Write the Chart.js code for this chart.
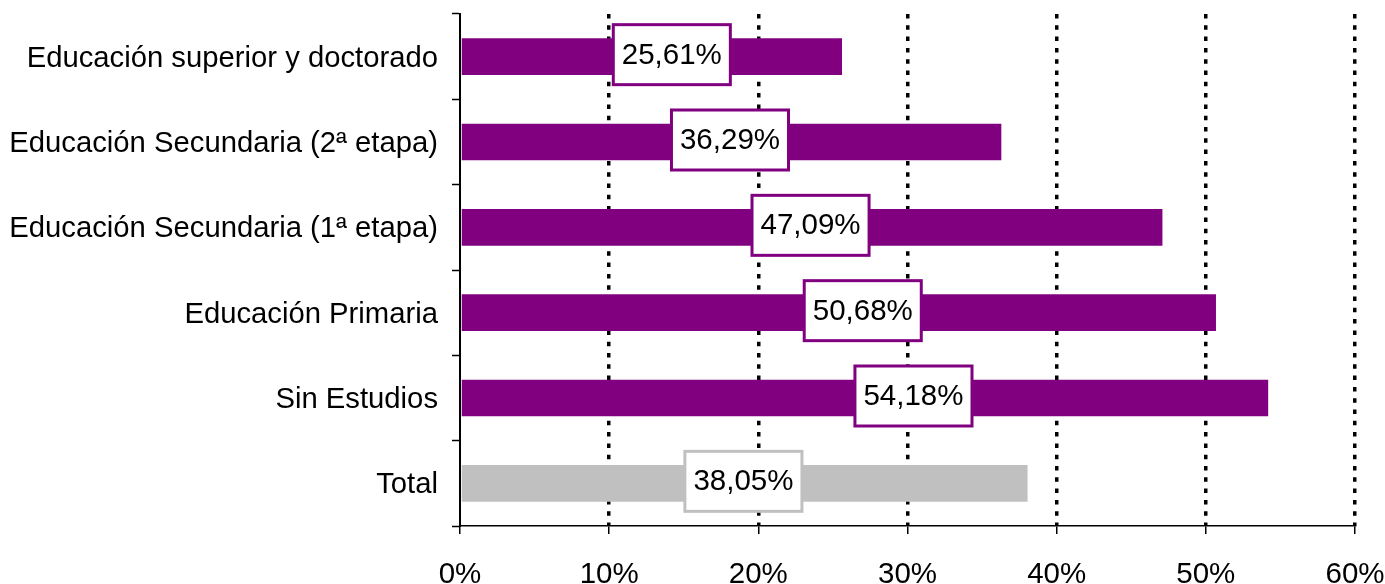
<!DOCTYPE html>
<html>
<head>
<meta charset="utf-8">
<script src="https://cdn.jsdelivr.net/npm/chart.js@4/dist/chart.umd.min.js"></script>
<style>
  html, body { margin: 0; padding: 0; background: #fff; }
  #wrap { width: 1385px; height: 584px; }
</style>
</head>
<body>
<div id="wrap"><canvas id="chart" width="1385" height="584"></canvas></div>
<script>
// ── Data ─────────────────────────────────────────────
const categories = [
  'Educación superior y doctorado',
  'Educación Secundaria (2ª etapa)',
  'Educación Secundaria (1ª etapa)',
  'Educación Primaria',
  'Sin Estudios',
  'Total'
];
const values   = [25.61, 36.29, 47.09, 50.68, 54.18, 38.05];
// where each value box sits along the axis (in %)
const labelAt  = [14.2, 18.1, 23.5, 27.0, 30.4, 19.0];
const xTicks   = [0, 10, 20, 30, 40, 50, 60];

const PURPLE = '#800080';
const GREY   = '#c0c0c0';
const FONT   = '"Liberation Sans", Arial, sans-serif';
const barColors = values.map((v, i) => i === values.length - 1 ? GREY : PURPLE);

const fmt = v => v.toFixed(2).replace('.', ',') + '%';

// boxed value labels
const boxLabels = {
  id: 'boxLabels',
  afterDatasetsDraw(chart) {
    const { ctx, scales: { x } } = chart;
    const meta = chart.getDatasetMeta(0);
    ctx.save();
    ctx.font = '29.5px ' + FONT;
    ctx.textAlign = 'center';
    ctx.textBaseline = 'middle';
    meta.data.forEach((bar, i) => {
      const txt = fmt(values[i]);
      const cx = x.getPixelForValue(labelAt[i]);
      const cy = bar.y - 2;
      const w = ctx.measureText(txt).width + 17;
      const h = 60;
      ctx.fillStyle = '#fff';
      ctx.fillRect(cx - w / 2, cy - h / 2, w, h);
      ctx.lineWidth = 3;
      ctx.strokeStyle = barColors[i];
      ctx.strokeRect(cx - w / 2, cy - h / 2, w, h);
      ctx.fillStyle = '#000';
      ctx.fillText(txt, cx, cy + 1);
    });
    ctx.restore();
  }
};

new Chart(document.getElementById('chart'), {
  type: 'bar',
  data: {
    labels: categories,
    datasets: [{
      data: values,
      backgroundColor: barColors,
      borderWidth: 0,
      categoryPercentage: 1,
      barPercentage: 0.43
    }]
  },
  options: {
    indexAxis: 'y',
    responsive: false,
    animation: false,
    layout: { padding: { top: 14, right: 30, bottom: 0, left: 0 } },
    plugins: { legend: { display: false }, tooltip: { enabled: false } },
    scales: {
      x: {
        min: 0, max: 60,
        afterBuildTicks: s => { s.ticks = xTicks.map(v => ({ value: v })); },
        afterFit: s => { s.height = 58; s.paddingLeft = 0; s.paddingRight = 0; },
        ticks: {
          color: '#000', padding: 23,
          font: { family: FONT, size: 29.5 },
          callback: v => v + '%'
        },
        grid: {
          color: c => c.tick && c.tick.value === 0 ? 'rgba(0,0,0,0)' : '#000',
          lineWidth: 3.5,
          tickColor: '#000', tickWidth: 1.5, tickLength: 8,
          tickBorderDash: []
        },
        border: { color: '#000', width: 1.5, dash: [4.5, 6.8] }
      },
      y: {
        afterFit: s => { s.width = 460; s.paddingTop = 0; s.paddingBottom = 0; },
        ticks: {
          color: '#000', padding: 14, labelOffset: 2,
          font: { family: FONT, size: 29.25 }
        },
        grid: {
          offset: true,
          drawOnChartArea: false,
          tickColor: '#000', tickWidth: 1.5, tickLength: 8
        },
        border: { color: '#000', width: 2 }
      }
    }
  },
  plugins: [boxLabels]
});
</script>
</body>
</html>
